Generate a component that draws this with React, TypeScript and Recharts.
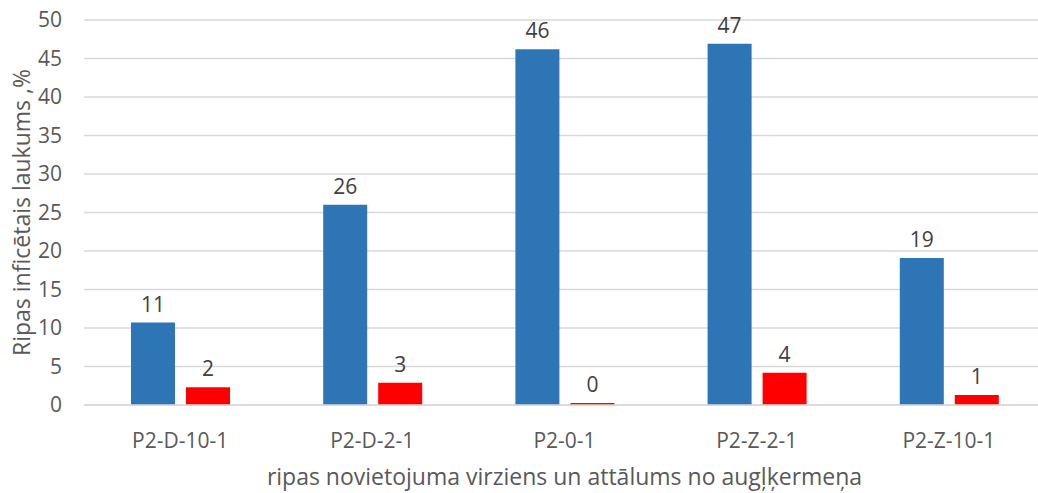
import React from "react";
import { BarChart, Bar, XAxis, YAxis, CartesianGrid, LabelList } from "recharts";

const categories = ["P2-D-10-1", "P2-D-2-1", "P2-0-1", "P2-Z-2-1", "P2-Z-10-1"];
const blueValues = [10.7, 26.0, 46.2, 46.9, 19.1];
const redValues = [2.3, 2.9, 0.25, 4.2, 1.3];
const yTicks = [0, 5, 10, 15, 20, 25, 30, 35, 40, 45, 50];

const data = categories.map((name, i) => ({
  name,
  blue: blueValues[i],
  red: redValues[i],
}));

const FONT = "'Open Sans', 'DejaVu Sans', sans-serif";
const axisColor = "#595959";

export default function App() {
  return (
    <div
      style={{
        position: "absolute",
        left: 0,
        top: 0,
        width: 1038,
        height: 493,
        overflow: "hidden",
        background: "#fff",
        fontFamily: FONT,
      }}
    >
      <BarChart
        width={1045}
        height={493}
        data={data}
        margin={{ top: 20, right: 0, bottom: 0, left: 0 }}
        barGap={11}
        barSize={44}
      >
        <CartesianGrid vertical={false} stroke="#d9d9d9" strokeWidth={1.5} />
        <XAxis
          dataKey="name"
          height={88}
          axisLine={{ stroke: "#d9d9d9", strokeWidth: 1.5 }}
          tickLine={false}
          tickMargin={22}
          tick={{ fontSize: 21, fill: axisColor, fontFamily: FONT }}
          label={{
            value: "ripas novietojuma virziens un attālums no augļķermeņa",
            position: "insideBottom",
            offset: 8,
            fontSize: 23,
            fill: axisColor,
            fontFamily: FONT,
          }}
        />
        <YAxis
          width={84}
          domain={[0, 50]}
          ticks={yTicks}
          axisLine={false}
          tickLine={false}
          tickMargin={16}
          tick={{ fontSize: 21, fill: axisColor, fontFamily: FONT }}
          label={{
            value: "Ripas inficētais laukums ,%",
            angle: -90,
            position: "insideLeft",
            offset: 22,
            style: { textAnchor: "middle" },
            fontSize: 23,
            fill: axisColor,
            fontFamily: FONT,
          }}
        />
        <Bar dataKey="blue" fill="#2e75b6" isAnimationActive={false}>
          <LabelList
            dataKey="blue"
            position="top"
            offset={11}
            formatter={(v: number) => Math.round(v)}
            style={{ fontSize: 21, fill: "#404040", fontFamily: FONT }}
          />
        </Bar>
        <Bar dataKey="red" fill="#ff0000" isAnimationActive={false}>
          <LabelList
            dataKey="red"
            position="top"
            offset={11}
            formatter={(v: number) => Math.round(v)}
            style={{ fontSize: 21, fill: "#404040", fontFamily: FONT }}
          />
        </Bar>
      </BarChart>
    </div>
  );
}
